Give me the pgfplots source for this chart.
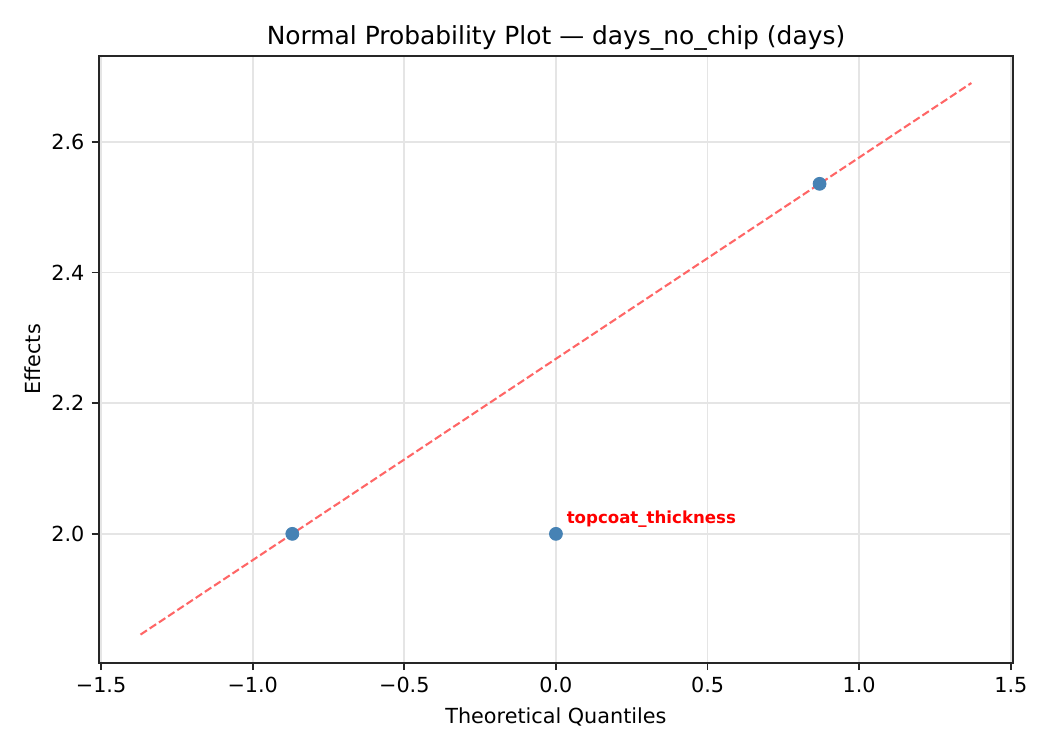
\documentclass[border=0pt]{standalone}
\usepackage{fontspec}
\setmainfont{DejaVu Sans}
\usepackage{pgfplots}
\pgfplotsset{compat=1.18}
\definecolor{ptblue}{HTML}{4682B4}
\definecolor{fitred}{HTML}{FF6666}
\definecolor{gridgray}{HTML}{E5E5E5}
\definecolor{framegray}{HTML}{262626}
\begin{document}
\begin{tikzpicture}
\begin{axis}[
  at={(0,0)}, anchor=south west,
  scale only axis,
  width=438.7bp, height=291.4bp,
  xmin=-1.507, xmax=1.507,
  ymin=1.8025, ymax=2.7316,
  xtick={-1.5,-1,-0.5,0,0.5,1,1.5},
  xticklabels={−1.5,−1.0,−0.5,0.0,0.5,1.0,1.5},
  ytick={2.0,2.2,2.4,2.6},
  yticklabels={2.0,2.2,2.4,2.6},
  tick align=outside, major tick length=3.5bp,
  tick style={framegray, line width=0.8bp},
  axis line style={framegray, line width=0.8bp},
  xtick pos=bottom, ytick pos=left,
  grid=major,
  major grid style={gridgray, line width=0.8bp},
  ticklabel style={font=\fontsize{10}{12}\selectfont},
  title={Normal Probability Plot — days\_no\_chip (days)},
  title style={font=\fontsize{12}{14}\selectfont, yshift=-6.7bp},
  xlabel={Theoretical Quantiles},
  ylabel={Effects},
  label style={font=\fontsize{10}{12}\selectfont},
  ylabel style={yshift=-2bp},
  clip=false,
]
% fitted reference line
\addplot[fitred, line width=1bp, dash pattern=on 3.7bp off 1.6bp] coordinates {
(-1.37,1.8458)
(1.37,2.6900)
};
% effects vs theoretical quantiles
\addplot[only marks, mark=*, mark size=3.1bp, mark options={draw=ptblue, fill=ptblue}] coordinates {
(-0.8694,2.0)
(0.0,2.0)
(0.8694,2.5357)
};
\node[anchor=south west, inner sep=0pt, text=red, font=\fontsize{8}{10}\selectfont\bfseries, xshift=5bp, yshift=3bp] at (axis cs:0,2.0) {topcoat\_thickness};
\end{axis}
\path[use as bounding box] (-47.5bp,-41.8bp) rectangle (456.5bp,318.2bp);
\end{tikzpicture}
\end{document}
